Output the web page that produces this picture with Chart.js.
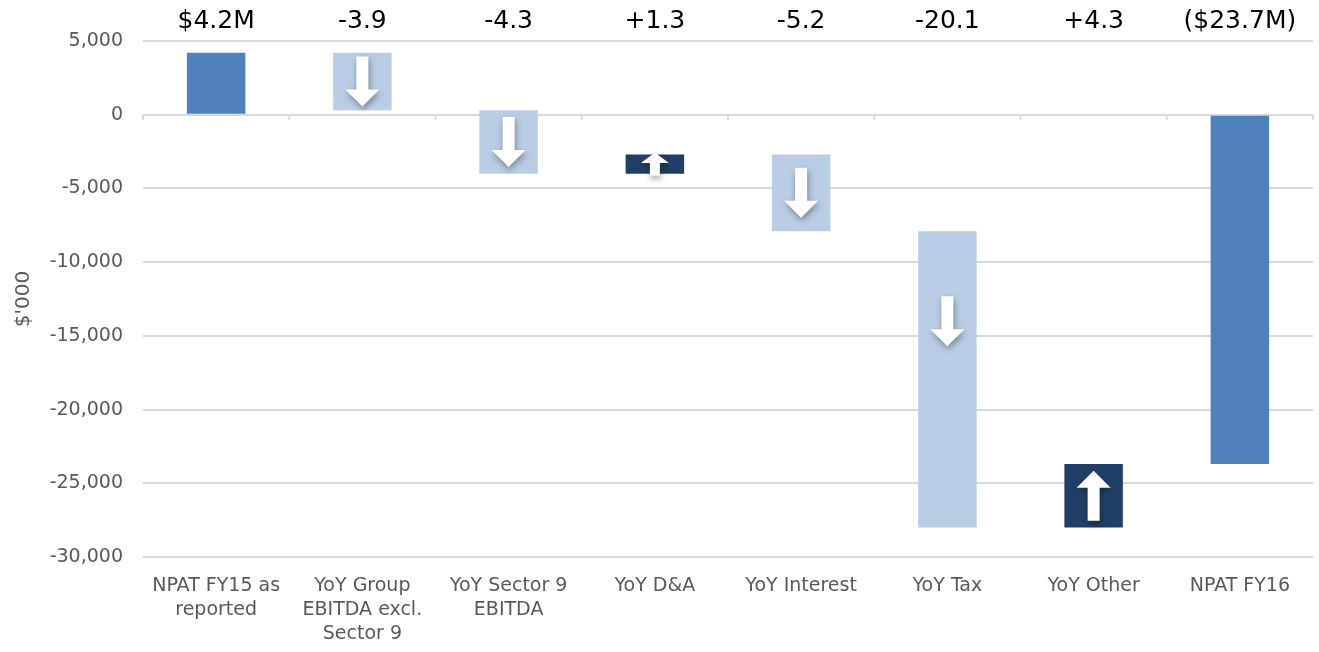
<!DOCTYPE html>
<html>
<head>
<meta charset="utf-8">
<script src="https://cdn.jsdelivr.net/npm/chart.js@4.4.1/dist/chart.umd.min.js"></script>
<style>
    html, body { margin: 0; padding: 0; background: #ffffff; }
    #wrap { width: 1319px; height: 652px; position: relative; }
</style>
</head>
<body>
<div id="wrap"><canvas id="waterfall"></canvas></div>
<script>
// NPAT bridge FY15 -> FY16, $'000
const categories = [
    ["NPAT FY15 as", "reported"],
    ["YoY Group", "EBITDA excl.", "Sector 9"],
    ["YoY Sector 9", "EBITDA"],
    "YoY D&A",
    "YoY Interest",
    "YoY Tax",
    "YoY Other",
    "NPAT FY16"
]
const barFrom = [0, 4200, 300, -4000, -2700, -7900, -28000, 0]
const barTo = [4200, 300, -4000, -2700, -7900, -28000, -23700, -23700]
const topLabels = ["$4.2M", "-3.9", "-4.3", "+1.3", "-5.2", "-20.1", "+4.3", "($23.7M)"]
const barKind = ["total", "down", "down", "up", "down", "down", "up", "total"]
const yTicks = [5000, 0, -5000, -10000, -15000, -20000, -25000, -30000]

const FONT = "'DejaVu Sans', sans-serif"

kindColors = {
    total: "#4f81bd",
    down: "#b9cde5",
    up: "#213f66"
}

// white block arrow inside each change bar
const arrowPlugin = {
    id: "arrows",
    afterDatasetsDraw(chart) {
        const ctx = chart.ctx
        const meta = chart.getDatasetMeta(0)
        meta.data.forEach((bar, i) => {
            if (barKind[i] == "total") return
            const top = Math.min(bar.y, bar.base)
            const barH = Math.abs(bar.base - bar.y)
            const cx = bar.x
            // tall bars keep the arrow near their top
            const cy = Math.min(top + barH / 2, top + 90)
            const h = Math.min(50, barH + 4)
            const headH = Math.min(17, h * 0.45)
            const headW = h >= 40 ? 34 : 28
            const shaftW = h >= 40 ? 12 : 10
            const dir = barKind[i] == "up" ? -1 : 1
            const tip = cy + dir * h / 2
            const tail = cy - dir * h / 2
            const neck = tip - dir * headH
            ctx.save()
            ctx.shadowColor = "rgba(0,0,0,0.35)"
            ctx.shadowBlur = 6
            ctx.shadowOffsetX = 1
            ctx.shadowOffsetY = 3
            ctx.fillStyle = "#ffffff"
            ctx.beginPath()
            ctx.moveTo(cx - shaftW / 2, tail)
            ctx.lineTo(cx + shaftW / 2, tail)
            ctx.lineTo(cx + shaftW / 2, neck)
            ctx.lineTo(cx + headW / 2, neck)
            ctx.lineTo(cx, tip)
            ctx.lineTo(cx - headW / 2, neck)
            ctx.lineTo(cx - shaftW / 2, neck)
            ctx.closePath()
            ctx.fill()
            ctx.restore()
        })
    }
}

// value labels over the plot plus the small tick marks on the zero line
const labelsPlugin = {
    id: "topLabels",
    afterDraw(chart) {
        const ctx = chart.ctx
        const meta = chart.getDatasetMeta(0)
        const xs = chart.scales.x
        const zero = chart.scales.y.getPixelForValue(0)
        ctx.save()
        ctx.fillStyle = "#000000"
        ctx.font = "25px " + FONT
        ctx.textAlign = "center"
        ctx.textBaseline = "middle"
        meta.data.forEach((bar, i) => {
            ctx.fillText(topLabels[i], bar.x, 21)
        })
        ctx.strokeStyle = "#d9d9d9"
        ctx.lineWidth = 2
        for (let i = 0; i <= categories.length; i++) {
            const x = xs.left + i * (xs.right - xs.left) / categories.length
            ctx.beginPath()
            ctx.moveTo(x, zero)
            ctx.lineTo(x, zero + 5)
            ctx.stroke()
        }
        ctx.restore()
    }
}

new Chart(document.getElementById("waterfall"), {
    type: "bar",
    data: {
        labels: categories,
        datasets: [{
            data: barFrom.map((v, i) => [v, barTo[i]]),
            backgroundColor: barKind.map(k => kindColors[k]),
            borderWidth: 0,
            borderSkipped: false,
            barPercentage: 0.4,
            categoryPercentage: 1.0
        }]
    },
    options: {
        responsive: true,
        maintainAspectRatio: false,
        animation: false,
        layout: {
            padding: { top: 41, right: 6, left: 0, bottom: 0 }
        },
        scales: {
            x: {
                grid: { display: false },
                border: { display: false },
                ticks: {
                    color: "#595959",
                    font: { family: FONT, size: 19, lineHeight: 1.27 },
                    maxRotation: 0,
                    autoSkip: false,
                    padding: 9
                },
                afterFit: (scale) => { scale.height = 95 }
            },
            y: {
                min: -30000,
                max: 5000,
                afterBuildTicks: (scale) => { scale.ticks = yTicks.map(v => ({ value: v })) },
                grid: { color: "#d9d9d9", lineWidth: 2, drawTicks: false },
                border: { display: false },
                ticks: {
                    color: "#595959",
                    font: { family: FONT, size: 19 },
                    padding: 20,
                    callback: (value) => value.toLocaleString("en-US")
                },
                title: {
                    display: true,
                    text: "$'000",
                    color: "#595959",
                    font: { family: FONT, size: 20 },
                    padding: { top: 12, bottom: 0 }
                },
                afterFit: (scale) => { scale.width = 143 }
            }
        },
        plugins: {
            legend: { display: false },
            tooltip: { enabled: false }
        }
    },
    plugins: [arrowPlugin, labelsPlugin]
})
</script>
</body>
</html>
